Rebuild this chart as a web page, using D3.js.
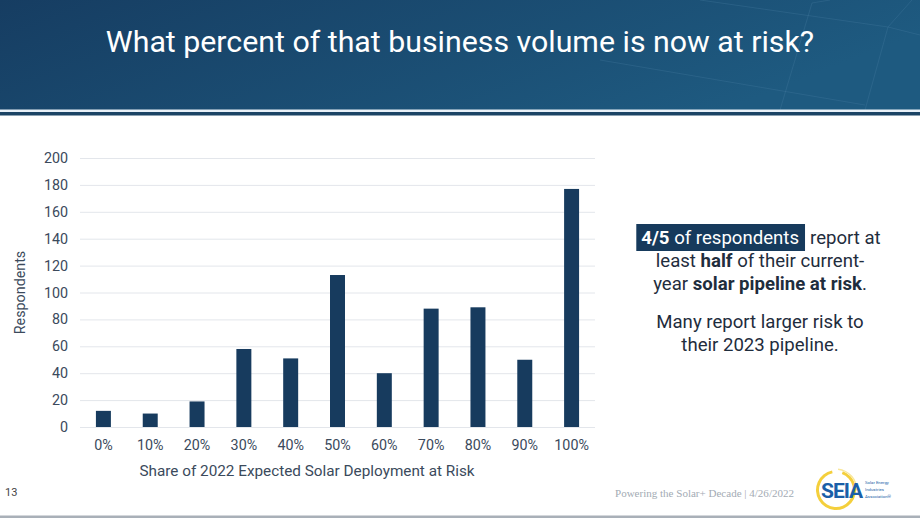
<!DOCTYPE html>
<html>
<head>
<meta charset="utf-8">
<script src="https://cdn.jsdelivr.net/npm/d3@7"></script>
<style>
  body { margin: 0; background: #fff; }
  svg { display: block; font-family: Roboto, "Noto Sans", sans-serif; }
</style>
</head>
<body>
<div id="root"></div>
<script>
// survey answers: share of 2022 deployment at risk -> number of respondents
var categories = ["0%", "10%", "20%", "30%", "40%", "50%", "60%", "70%", "80%", "90%", "100%"];
var respondents = [12, 10, 19, 58, 51, 113, 40, 88, 89, 50, 177];
var yTicks = [0, 20, 40, 60, 80, 100, 120, 140, 160, 180, 200];

var W = 920, H = 518;
var svg = d3.select("#root").append("svg")
    .attr("width", W)
    .attr("height", H);

// header band
var defs = svg.append("defs");
var grad = defs.append("linearGradient").attr("id", "hdr")
    .attr("x1", "0").attr("y1", "0").attr("x2", "1").attr("y2", "0.3");
grad.append("stop").attr("offset", "0").attr("stop-color", "#163d62");
grad.append("stop").attr("offset", "1").attr("stop-color", "#1e5a80");

svg.append("rect").attr("x", 0).attr("y", 0).attr("width", W).attr("height", 110)
    .attr("fill", "url(#hdr)");
// faint network lines in the header corner
var net = svg.append("g").attr("stroke", "#4a7ea3").attr("stroke-opacity", 0.3).attr("fill", "none");
net.append("path").attr("d", "M700,0 L888,27 L920,35");
net.append("path").attr("d", "M888,27 L865,110");
net.append("path").attr("d", "M600,60 L865,105");
net.append("path").attr("d", "M912,0 L888,27");
net.append("path").attr("d", "M830,0 L812,3 L780,110");
svg.append("rect").attr("x", 0).attr("y", 109.5).attr("width", W).attr("height", 2.5).attr("fill", "#e9f1f8");
svg.append("rect").attr("x", 0).attr("y", 112).attr("width", W).attr("height", 3.5).attr("fill", "#1b4465");

svg.append("text")
    .attr("x", 460).attr("y", 52)
    .attr("text-anchor", "middle")
    .attr("fill", "#fff")
    .style("font-size", "30.3px")
    .text("What percent of that business volume is now at risk?");

// chart
var margin = {top: 158, left: 80, right: 325, bottom: 91};
var x = d3.scaleBand()
    .domain(categories)
    .range([margin.left, W - margin.right])
    .paddingInner(0.68)
    .paddingOuter(0.34);

var y = d3.scaleLinear()
    .domain([0, 200])
    .range([H - margin.bottom, margin.top]);

var grid = svg.append("g")
    .attr("transform", "translate(" + margin.left + ",0)")
    .call(d3.axisLeft(y).tickValues(yTicks).tickSize(-(W - margin.right - margin.left)).tickFormat(""));
grid.select(".domain").remove();
grid.selectAll("line").attr("stroke", "#e3e6eb");

var yAxis = svg.append("g")
    .attr("transform", "translate(" + margin.left + ",0)")
    .call(d3.axisLeft(y).tickValues(yTicks).tickSize(0).tickPadding(12));
yAxis.select(".domain").remove();
yAxis.selectAll("text")
    .attr("fill", "#3b4a5c")
    .style("font-size", "14.3px")
    .style("font-family", "Roboto, sans-serif");

var xAxis = svg.append("g")
    .attr("transform", "translate(0," + (H - margin.bottom) + ")")
    .call(d3.axisBottom(x).tickSize(0).tickPadding(13));
xAxis.select(".domain").remove();
xAxis.selectAll("text")
    .attr("fill", "#3b4a5c")
    .style("font-size", "14.3px")
    .style("font-family", "Roboto, sans-serif");

svg.selectAll(".bar")
    .data(respondents)
    .enter()
    .append("rect")
    .attr("class", "bar")
    .attr("x", function (d, i) { return x(categories[i]); })
    .attr("width", x.bandwidth())
    .attr("y", function (d) { return y(d); })
    .attr("height", function (d) { return y(0) - y(d); })
    .attr("fill", "#173b5e");

// axis titles
svg.append("text")
    .attr("transform", "translate(25," + (y(100)) + ") rotate(-90)")
    .attr("text-anchor", "middle")
    .attr("fill", "#3b4a5c")
    .style("font-size", "14.3px")
    .text("Respondents");

svg.append("text")
    .attr("x", 307).attr("y", 476)
    .attr("text-anchor", "middle")
    .attr("fill", "#3b4a5c")
    .style("font-size", "15.3px")
    .text("Share of 2022 Expected Solar Deployment at Risk");

// callout text
var fs = "18.6px";
var hlRect = svg.append("rect").attr("y", 224).attr("height", 27).attr("fill", "#163a5c");
var l1 = svg.append("text").attr("y", 244).style("font-size", fs);
var hl = l1.append("tspan").attr("fill", "#fff");
hl.append("tspan").attr("font-weight", "bold").text("4/5");
hl.append("tspan").text(" of respondents");
var rest = l1.append("tspan").attr("dx", 11).attr("fill", "#1f2d3d").text("report at");
var wHl = hl.node().getComputedTextLength();
var total = l1.node().getComputedTextLength() + 11;
var x0 = 761 - total / 2;
l1.attr("x", x0);
hlRect.attr("x", x0 - 5).attr("width", wHl + 11);

var note = svg.append("g").attr("fill", "#1f2d3d").style("font-size", fs).attr("text-anchor", "middle");
var l2 = note.append("text").attr("x", 760).attr("y", 267);
l2.append("tspan").text("least ");
l2.append("tspan").attr("font-weight", "bold").text("half");
l2.append("tspan").text(" of their current-");
var l3 = note.append("text").attr("x", 760).attr("y", 290);
l3.append("tspan").text("year ");
l3.append("tspan").attr("font-weight", "bold").text("solar pipeline at risk");
l3.append("tspan").text(".");
note.append("text").attr("x", 760).attr("y", 328).text("Many report larger risk to");
note.append("text").attr("x", 760).attr("y", 351).text("their 2023 pipeline.");

// footer
svg.append("text").attr("x", 5).attr("y", 496).attr("fill", "#444").style("font-size", "11px").text("13");
svg.append("text").attr("x", 615).attr("y", 497).attr("fill", "#a3abb4")
    .attr("textLength", 179).attr("lengthAdjust", "spacingAndGlyphs")
    .style("font-family", "'Liberation Serif', 'DejaVu Serif', serif").style("font-size", "11px")
    .text("Powering the Solar+ Decade | 4/26/2022");

// SEIA logo
var logo = svg.append("g").attr("transform", "translate(836,490)");
logo.append("path").attr("d", d3.arc()({innerRadius: 17, outerRadius: 20, startAngle: 0.35, endAngle: 2 * Math.PI - 0.2}))
    .attr("fill", "#f4cf3c");
logo.append("path").attr("d", d3.arc()({innerRadius: 20, outerRadius: 21.5, startAngle: 0.1, endAngle: 1.6}))
    .attr("fill", "#f8e79b");
logo.append("text").attr("x", -15).attr("y", 8).attr("fill", "#1a5fa8").attr("font-weight", "bold")
    .style("letter-spacing", "-1px")
    .style("font-size", "21px").text("SEIA");
var small = logo.append("g").attr("fill", "#1a5fa8").style("font-size", "4.3px");
small.append("text").attr("x", 29).attr("y", -6).text("Solar Energy");
small.append("text").attr("x", 29).attr("y", 1).text("Industries");
small.append("text").attr("x", 29).attr("y", 8).text("Association®");

// bottom rule
svg.append("rect").attr("x", 0).attr("y", 515.5).attr("width", W).attr("height", 2.5).attr("fill", "#a9b0b8");
</script>
</body>
</html>
